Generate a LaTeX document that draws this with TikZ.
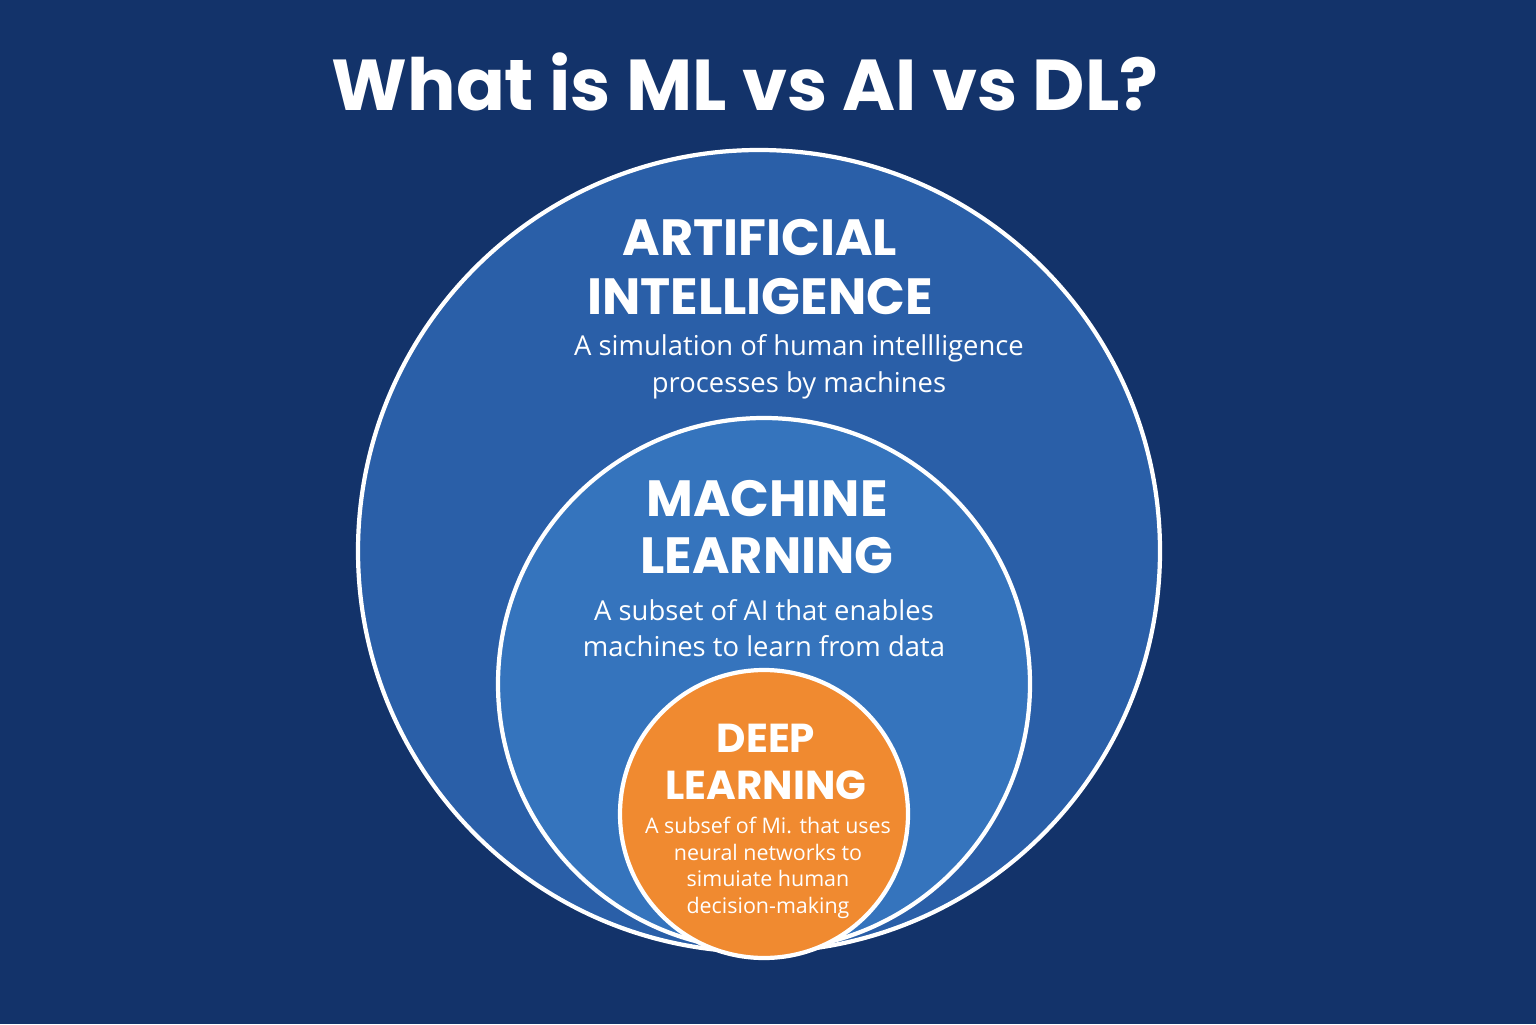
\documentclass[tikz,border=0pt]{standalone}
\usepackage{fontspec}
\setmainfont{Open Sans}
\newfontfamily\headfont{Poppins}
\usetikzlibrary{positioning}
\definecolor{bgblue}{HTML}{13336A}
\definecolor{aiblue}{HTML}{2A5FA8}
\definecolor{mlblue}{HTML}{3574BD}
\definecolor{dlorange}{HTML}{F08A30}

\begin{document}
\begin{tikzpicture}[
    ring/.style={circle, draw=white, line width=1.2pt},
    head/.style={text=white, align=center, font=\headfont\bfseries},
    sub/.style={text=white, align=center, font=\fontsize{7.8}{10.4}\selectfont}
]

% Background
\fill[bgblue] (0,0) rectangle (15.36,10.24);
\useasboundingbox (0,0) rectangle (15.36,10.24);

% Title
\node[head, font=\headfont\bfseries\fontsize{20.5}{24}\selectfont] (title) at (7.45,9.42) {What is ML vs AI vs DL?};

% Circles
\node[ring, fill=aiblue, minimum size=8.02cm] (ai) at (7.59,4.73) {};
\node[ring, fill=mlblue, minimum size=5.32cm] (ml) at (7.64,3.40) {};
\node[ring, fill=dlorange, minimum size=2.88cm] (dl) at (7.64,2.10) {};

% Artificial intelligence
\node[head, font=\headfont\bfseries\fontsize{14.5}{17}\selectfont] (aihead) at (7.60,7.57) {ARTIFICIAL\\INTELLIGENCE};
\node[sub] (aisub) at (7.99,6.57) {A simulation of human intellligence\\processes by machines};

% Machine learning
\node[head, font=\headfont\bfseries\fontsize{14.5}{16}\selectfont] (mlhead) at (7.67,4.97) {MACHINE\\LEARNING};
\node[sub] (mlsub) at (7.64,3.96) {A subset of AI that enables\\machines to learn from data};

% Deep learning
\node[head, font=\headfont\bfseries\fontsize{11.5}{13.2}\selectfont] (dlhead) at (7.66,2.62) {DEEP\\LEARNING};
\node[sub, font=\fontsize{6.1}{7.6}\selectfont] (dlsub) at (7.68,1.56) {A subsef of Mi. that uses\\neural networks to\\simuiate human\\decision-making};

\end{tikzpicture}
\end{document}
